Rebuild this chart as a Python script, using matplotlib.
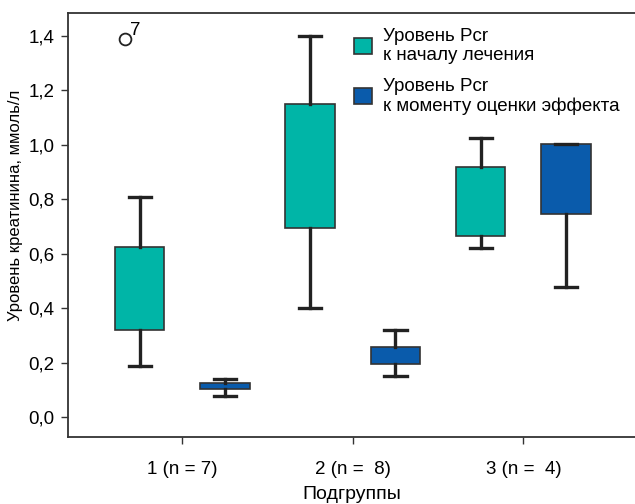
import matplotlib.pyplot as plt
from matplotlib.patches import Patch

plt.rcParams["font.family"] = ["Liberation Sans", "DejaVu Sans"]

groups = ["1 (n = 7)", "2 (n =  8)", "3 (n =  4)"]
series_names = ["Уровень Pcr\nк началу лечения", "Уровень Pcr\nк моменту оценки эффекта"]
colors = ["#00B5A7", "#0A5BAB"]

# whisker low, box low, box high, whisker high
start_vals = [
    [0.19, 0.32, 0.625, 0.81],
    [0.40, 0.695, 1.15, 1.40],
    [0.62, 0.665, 0.918, 1.027],
]
effect_vals = [
    [0.08, 0.103, 0.126, 0.142],
    [0.15, 0.197, 0.258, 0.32],
    [0.48, 0.746, 1.003, 1.003],
]
outlier_group = 0
outlier_value = 1.39
outlier_label = "7"

fs = 13.5

fig = plt.figure(figsize=(6.35, 5.04), dpi=100)
ax = fig.add_axes([0.1075, 0.133, 0.8925, 0.841])

offset = 0.25
width = 0.29
for k, (vals, color) in enumerate(zip([start_vals, effect_vals], colors)):
    stats = []
    for v in vals:
        stats.append({"whislo": v[0], "q1": v[1], "med": v[1], "q3": v[2], "whishi": v[3], "fliers": []})
    pos = [i + 1 + (offset if k else -offset) for i in range(len(vals))]
    ax.bxp(stats, positions=pos, widths=width, patch_artist=True, showfliers=False,
           boxprops=dict(facecolor=color, edgecolor="#333333", linewidth=1.2),
           whiskerprops=dict(color="#222222", linewidth=2.4),
           capprops=dict(color="#222222", linewidth=2.4),
           medianprops=dict(linewidth=0),
           capwidths=0.13, zorder=2)

ox = outlier_group + 1 - offset - 0.085
ax.plot([ox], [outlier_value], marker="o", markersize=8.5, markerfacecolor="white",
        markeredgecolor="#222222", markeredgewidth=1.3, linestyle="none")
ax.text(ox + 0.03, outlier_value + 0.0, outlier_label, fontsize=fs, va="bottom", ha="left")

ax.set_xlim(0.331, 3.655)
ax.set_ylim(-0.072, 1.484)
ax.set_xticks([1, 2, 3])
ax.set_xticklabels(groups, fontsize=fs)
yt = [0.0, 0.2, 0.4, 0.6, 0.8, 1.0, 1.2, 1.4]
ax.set_yticks(yt)
ax.set_yticklabels([f"{t:.1f}".replace(".", ",") for t in yt], fontsize=fs)
ax.tick_params(direction="out", length=5, width=1, color="#333333", pad=5)
ax.tick_params(axis="x", pad=12)
for s in ["left", "bottom", "top"]:
    ax.spines[s].set_linewidth(1.3)
    ax.spines[s].set_color("#333333")
ax.spines["right"].set_visible(False)

ax.set_xlabel("Подгруппы", fontsize=14, labelpad=6)
fig.text(16 / 635, 1 - 205 / 504, "Уровень креатинина, ммоль/л", fontsize=12,
         rotation=90, ha="center", va="center")

handles = [Patch(facecolor=c, edgecolor="#333333", linewidth=1.2) for c in colors]
ax.legend(handles, series_names, loc="upper left", bbox_to_anchor=(0.504, 0.966),
          frameon=False, fontsize=fs, borderaxespad=0, borderpad=0,
          handlelength=0.96, handleheight=0.9, handletextpad=0.6, labelspacing=0.72)

fig.savefig("out.png", dpi=100)
